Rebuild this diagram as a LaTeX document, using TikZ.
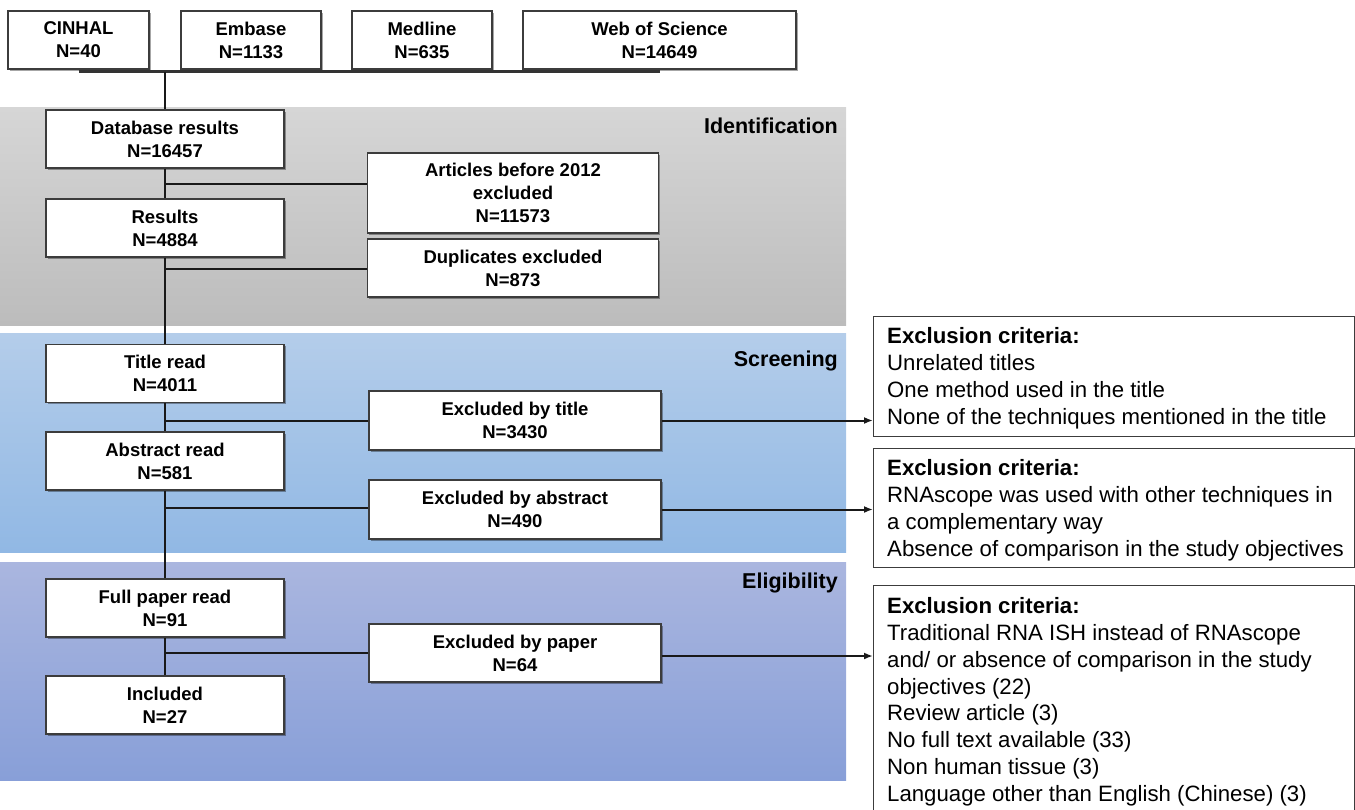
\documentclass[tikz,border=0pt]{standalone}
\usepackage{fontspec}
\setmainfont{Liberation Sans}
\usetikzlibrary{arrows.meta,shadows}
\definecolor{idtop}{RGB}{214,214,214}
\definecolor{idbot}{RGB}{188,188,188}
\definecolor{sctop}{RGB}{180,205,234}
\definecolor{scbot}{RGB}{145,184,228}
\definecolor{eltop}{RGB}{170,182,223}
\definecolor{elbot}{RGB}{136,159,216}
\definecolor{boxline}{RGB}{60,60,60}
\definecolor{lineclr}{RGB}{25,25,25}
\begin{document}
\begin{tikzpicture}[x=1pt,y=-1pt,
  box/.style={draw=boxline,line width=1.4pt,fill=white,align=center,
    font=\fontsize{18.5}{23}\selectfont\bfseries,inner sep=0pt,
    drop shadow={shadow xshift=1.5pt,shadow yshift=-1.5pt,fill=black,opacity=0.35}},
  critbox/.style={draw=boxline,line width=1.4pt,fill=white,anchor=north west,inner sep=0pt},
  crittext/.style={anchor=north west,align=left,inner sep=0pt,font=\fontsize{22.2}{26.8}\selectfont},
  band/.style={font=\fontsize{21.5}{26}\selectfont\bfseries,anchor=east,inner sep=0pt},
  conn/.style={draw=lineclr,line width=2pt},
  arr/.style={conn,-{Latex[length=9pt,width=7pt]}}
]
\useasboundingbox (0,0) rectangle (1355,809);
% bands
\fill[top color=idtop,bottom color=idbot] (0,107) rectangle (846,325);
\fill[top color=sctop,bottom color=scbot] (0,333) rectangle (846,552);
\fill[top color=eltop,bottom color=elbot] (0,562) rectangle (846,780);
\node[band] (lid) at (838,126) {Identification};
\node[band] (lsc) at (838,361) {Screening};
\node[band] (lel) at (838,583) {Eligibility};
% source boxes
\node[box,minimum width=141pt,minimum height=58pt] (cinhal) at (78.5,40) {CINHAL\\N=40};
\node[box,minimum width=140pt,minimum height=58pt] (embase) at (251,40) {Embase\\N=1133};
\node[box,minimum width=140pt,minimum height=58pt] (medline) at (422,40) {Medline\\N=635};
\node[box,minimum width=273pt,minimum height=58pt] (wos) at (659.5,40) {Web of Science\\N=14649};
% main column
\node[box,minimum width=238pt,minimum height=58pt] (db) at (165,139) {Database results\\N=16457};
\node[box,minimum width=238pt,minimum height=58pt] (res) at (165,228) {Results\\N=4884};
\node[box,minimum width=238pt,minimum height=58pt] (title) at (165,373.5) {Title read\\N=4011};
\node[box,minimum width=238pt,minimum height=58pt] (abs) at (165,461) {Abstract read\\N=581};
\node[box,minimum width=238pt,minimum height=58pt] (full) at (165,608) {Full paper read\\N=91};
\node[box,minimum width=238pt,minimum height=58pt] (inc) at (165,705) {Included\\N=27};
% exclusion boxes
\node[box,minimum width=291pt,minimum height=80pt] (art) at (513,193) {Articles before 2012\\excluded\\N=11573};
\node[box,minimum width=291pt,minimum height=58pt] (dup) at (513,268) {Duplicates excluded\\N=873};
\node[box,minimum width=292pt,minimum height=59pt] (extitle) at (515,420.5) {Excluded by title\\N=3430};
\node[box,minimum width=292pt,minimum height=59pt] (exabs) at (515,509.5) {Excluded by abstract\\N=490};
\node[box,minimum width=292pt,minimum height=58pt] (expaper) at (515,653) {Excluded by paper\\N=64};
% criteria boxes
\node[critbox,minimum width=481pt,minimum height=120pt] (crit1) at (873,316) {};
\node[critbox,minimum width=481pt,minimum height=119pt] (crit2) at (873,448) {};
\node[critbox,minimum width=481pt,minimum height=240pt] (crit3) at (873,585) {};
\node[crittext] (t1) at (887,327.5) {\textbf{Exclusion criteria:}\\Unrelated titles\\One method used in the title\\None of the techniques mentioned in the title};
\node[crittext] (t2) at (887,459.5) {\textbf{Exclusion criteria:}\\RNAscope was used with other techniques in\\a complementary way\\Absence of comparison in the study objectives};
\node[crittext] (t3) at (887,597.5) {\textbf{Exclusion criteria:}\\Traditional RNA ISH instead of RNAscope\\and/ or absence of comparison in the study\\objectives (22)\\Review article (3)\\No full text available (33)\\Non human tissue (3)\\Language other than English (Chinese) (3)};
% connectors
\draw[conn,line width=2.6pt,draw=black!80] ([yshift=-2pt]cinhal.south) -- ([yshift=-2pt]cinhal.south -| wos.south) coordinate (topr);
\coordinate (tj) at ([yshift=-2pt]cinhal.south -| db.north);
\draw[conn] (tj) -- (db.north);
\draw[conn] (db.south) -- (res.north);
\draw[conn] (res.south) -- (title.north);
\draw[conn] (title.south) -- (abs.north);
\draw[conn] (abs.south) -- (full.north);
\draw[conn] (full.south) -- (inc.north);
\coordinate (b1) at (165,184);
\coordinate (b2) at (165,269);
\coordinate (b3) at (165,421);
\coordinate (b4) at (165,508);
\coordinate (b5) at (165,653);
\draw[conn] (b1) -- (b1 -| art.west);
\draw[conn] (b2) -- (b2 -| dup.west);
\draw[conn] (b3) -- (b3 -| extitle.west);
\draw[conn] (b4) -- (b4 -| exabs.west);
\draw[conn] (b5) -- (b5 -| expaper.west);
\draw[arr] (extitle.east) -- (extitle.east -| crit1.west);
\draw[arr] (exabs.east) -- (exabs.east -| crit2.west);
\draw[arr] ([yshift=-3pt]expaper.east) -- ([yshift=-3pt]expaper.east -| crit3.west);
\end{tikzpicture}
\end{document}
